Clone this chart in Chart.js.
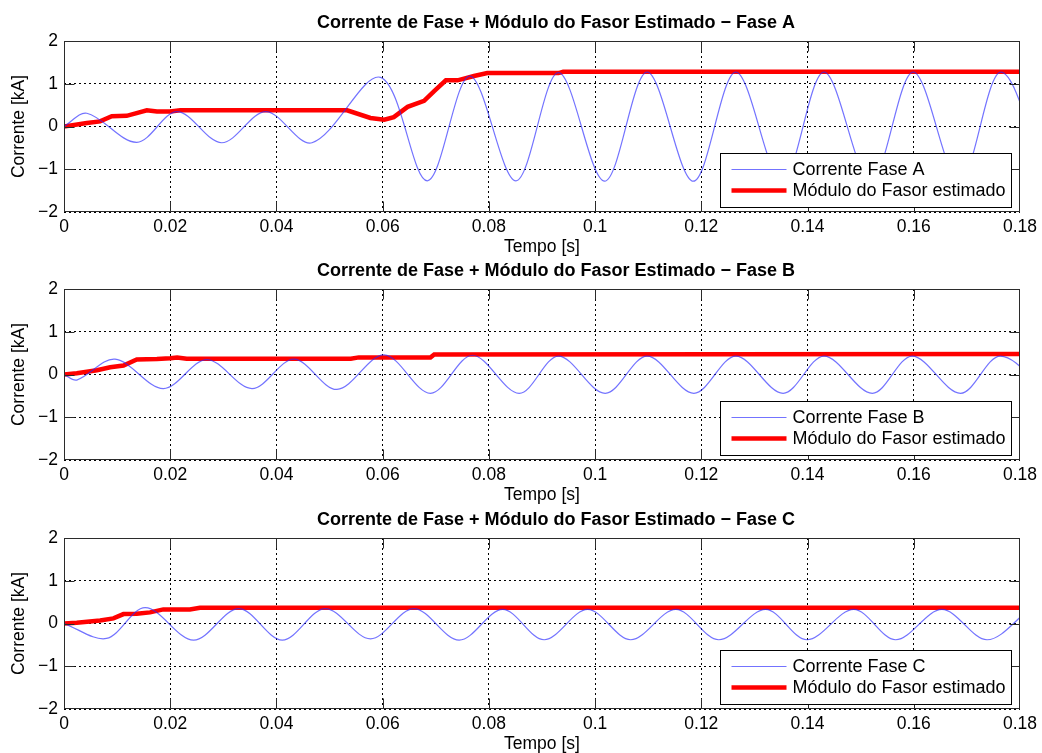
<!DOCTYPE html>
<html>
<head>
<meta charset="utf-8">
<script src="https://cdn.jsdelivr.net/npm/chart.js@4"></script>
<style>
  html, body { margin: 0; padding: 0; background: #fff; overflow: hidden; }
  canvas { position: absolute; left: 0; }
</style>
</head>
<body>
<canvas id="faseA" width="1042" height="262" style="top:0px"></canvas>
<canvas id="faseB" width="1042" height="262" style="top:248px"></canvas>
<canvas id="faseC" width="1042" height="262" style="top:497px"></canvas>
<script>
// eixos
const xTicks = [0, 0.02, 0.04, 0.06, 0.08, 0.1, 0.12, 0.14, 0.16, 0.18];
const xTickLabels = ['0', '0.02', '0.04', '0.06', '0.08', '0.1', '0.12', '0.14', '0.16', '0.18'];
const yTicks = [-2, -1, 0, 1, 2];
const yTickLabels = ['\u22122', '\u22121', '0', '1', '2'];

// Fase A - corrente (picos e vales)
const tempoA = [0, 0.0043, 0.0137, 0.0213, 0.0297, 0.038, 0.0467, 0.0596, 0.0684, 0.0764, 0.0851,
  0.0931, 0.1018, 0.1098, 0.1185, 0.1265, 0.1352, 0.1431, 0.1519, 0.1599, 0.1686, 0.1764, 0.1852];
const correnteA = [0, 0.31, -0.37, 0.35, -0.38, 0.35, -0.38, 1.15, -1.27, 1.18, -1.27,
  1.26, -1.28, 1.27, -1.28, 1.27, -1.28, 1.27, -1.28, 1.27, -1.28, 1.27, -1.28];
// Fase A - modulo estimado
const tempoModA = [0, 0.0043, 0.0068, 0.009, 0.0118, 0.0156, 0.0175, 0.02, 0.0219, 0.0533, 0.0577, 0.0603,
  0.0621, 0.0647, 0.0678, 0.0697, 0.0719, 0.0741, 0.0772, 0.0797, 0.0931, 0.094, 0.18];
const moduloA = [0, 0.08, 0.12, 0.24, 0.25, 0.38, 0.35, 0.35, 0.38, 0.38, 0.2, 0.16,
  0.22, 0.46, 0.6, 0.83, 1.08, 1.08, 1.18, 1.25, 1.25, 1.28, 1.28];

// Fase B
const tempoB = [0, 0.0024, 0.0096, 0.0187, 0.0269, 0.0354, 0.0433, 0.0514, 0.0603, 0.069, 0.0769,
  0.0857, 0.0931, 0.1019, 0.1098, 0.1186, 0.1265, 0.1354, 0.1431, 0.1522, 0.1597, 0.1688, 0.1763, 0.1853];
const correnteB = [0, -0.13, 0.36, -0.33, 0.35, -0.33, 0.36, -0.35, 0.46, -0.44, 0.45,
  -0.44, 0.43, -0.44, 0.43, -0.44, 0.43, -0.44, 0.43, -0.44, 0.43, -0.44, 0.43, -0.44];
const tempoModB = [0, 0.0024, 0.0062, 0.0087, 0.0112, 0.0137, 0.0175, 0.02, 0.0213, 0.0231, 0.054, 0.0555,
  0.069, 0.0697, 0.18];
const moduloB = [0, 0.03, 0.1, 0.17, 0.21, 0.35, 0.36, 0.38, 0.4, 0.37, 0.37, 0.4,
  0.4, 0.47, 0.48];

// Fase C
const tempoC = [0, 0.008, 0.0153, 0.0244, 0.0329, 0.0411, 0.0492, 0.0577, 0.0659, 0.0744, 0.0826,
  0.0904, 0.0986, 0.1067, 0.1152, 0.1233, 0.1321, 0.1399, 0.1487, 0.1566, 0.1653, 0.1738, 0.1818];
const correnteC = [0, -0.35, 0.37, -0.39, 0.35, -0.39, 0.35, -0.36, 0.35, -0.39, 0.33,
  -0.38, 0.33, -0.38, 0.33, -0.38, 0.33, -0.38, 0.33, -0.38, 0.33, -0.38, 0.33];
const tempoModC = [0, 0.0024, 0.0068, 0.0093, 0.0112, 0.0137, 0.0162, 0.0187, 0.0237, 0.0256, 0.18];
const moduloC = [0, 0.02, 0.07, 0.12, 0.22, 0.23, 0.26, 0.33, 0.33, 0.37, 0.37];

const FONT = 'Liberation Sans, Arial, Helvetica, sans-serif';
const TICK = 10;
const AZUL = 'rgba(40,40,255,0.65)';

function pontos(t, v) {
  return t.map((x, i) => ({ x: x, y: v[i] }));
}

// titulo um pouco deslocado para a direita, como no original
const titleShift = {
  id: 'titleShift',
  afterLayout(chart) {
    if (chart.titleBlock) chart.titleBlock.left += 28;
  }
};

// caixa dos eixos + marcas internas (estilo matlab)
const axesBox = {
  id: 'axesBox',
  afterDatasetsDraw(chart) {
    const { ctx, chartArea: a, scales: { x, y } } = chart;
    const l = Math.round(a.left) + 0.5, r = Math.round(a.right) - 0.5;
    const t = Math.round(a.top) + 0.5, b = Math.round(a.bottom) - 0.5;
    const lim = (v, lo, hi) => Math.min(Math.max(v, lo), hi);
    ctx.save();
    ctx.strokeStyle = '#2b2b2b';
    ctx.lineWidth = 1;
    ctx.beginPath();
    xTicks.forEach(v => {
      const px = lim(Math.round(x.getPixelForValue(v)) + 0.5, l, r);
      ctx.moveTo(px, b); ctx.lineTo(px, b - TICK);
      ctx.moveTo(px, t); ctx.lineTo(px, t + TICK);
    });
    yTicks.forEach(v => {
      const py = lim(Math.round(y.getPixelForValue(v)) + 0.5, t, b);
      ctx.moveTo(l, py); ctx.lineTo(l + TICK, py);
      ctx.moveTo(r, py); ctx.lineTo(r - TICK, py);
    });
    ctx.stroke();
    ctx.strokeRect(l, t, r - l, b - t);
    ctx.restore();
  }
};

// legenda com caixa no canto inferior direito
const boxLegend = {
  id: 'boxLegend',
  afterDraw(chart) {
    const { ctx, chartArea: a } = chart;
    const w = 291, h = 54;
    const bx = Math.round(a.right - 9 - w) + 0.5;
    const by = Math.round(a.bottom - 5 - h) + 0.5;
    ctx.save();
    ctx.fillStyle = '#fff';
    ctx.fillRect(bx, by, w, h);
    ctx.strokeStyle = '#000';
    ctx.lineWidth = 1;
    ctx.strokeRect(bx, by, w, h);
    ctx.font = '18px ' + FONT;
    ctx.textBaseline = 'middle';
    ctx.fillStyle = '#000';
    chart.data.datasets.forEach((ds, i) => {
      const yy = by + 16 + i * 21;
      ctx.strokeStyle = ds.borderColor;
      ctx.lineWidth = ds.borderWidth;
      ctx.beginPath();
      ctx.moveTo(bx + 11, yy);
      ctx.lineTo(bx + 66, yy);
      ctx.stroke();
      ctx.fillText(ds.label, bx + 72, yy + 1);
    });
    ctx.restore();
  }
};

function makeChart(id, fase, tempo, corrente, tempoMod, modulo) {
  return new Chart(document.getElementById(id), {
    type: 'line',
    data: {
      datasets: [
        {
          label: 'Corrente Fase ' + fase,
          data: pontos(tempo, corrente),
          borderColor: AZUL,
          borderWidth: 1.2,
          pointRadius: 0,
          tension: 0.333
        },
        {
          label: 'M\u00f3dulo do Fasor estimado',
          data: pontos(tempoMod, modulo),
          borderColor: '#ff0000',
          borderWidth: 4.5,
          pointRadius: 0,
          tension: 0
        }
      ]
    },
    options: {
      responsive: false,
      animation: false,
      devicePixelRatio: 1,
      elements: { line: { capBezierPoints: false } },
      layout: { padding: { left: 0, right: 20, top: 0, bottom: 0 } },
      plugins: {
        legend: { display: false },
        tooltip: { enabled: false },
        title: {
          display: true,
          fullSize: false,
          text: 'Corrente de Fase + M\u00f3dulo do Fasor Estimado \u2212 Fase ' + fase,
          color: '#000',
          font: { family: FONT, size: 18, weight: 'bold' },
          padding: { top: 12, bottom: 7.4 }
        }
      },
      scales: {
        x: {
          type: 'linear',
          min: 0,
          max: 0.18,
          afterBuildTicks: s => { s.ticks = xTicks.map(v => ({ value: v })); },
          afterFit: s => { s.height = 50; },
          grid: { color: '#000', lineWidth: 1, drawTicks: false },
          border: { display: false, dash: [2, 3] },
          ticks: {
            color: '#000', padding: 5, maxRotation: 0, autoSkip: false,
            font: { family: FONT, size: 17.5 },
            callback: (v, i) => xTickLabels[i]
          },
          title: {
            display: true, text: 'Tempo [s]', color: '#000',
            font: { family: FONT, size: 17.5 },
            padding: { top: 0, bottom: 4.5 }
          }
        },
        y: {
          min: -2,
          max: 2,
          afterBuildTicks: s => { s.ticks = yTicks.map(v => ({ value: v })); },
          afterFit: s => { s.width = 64; },
          grid: { color: '#000', lineWidth: 1, drawTicks: false },
          border: { display: false, dash: [2, 3] },
          ticks: {
            color: '#000', padding: 6,
            font: { family: FONT, size: 17.5 },
            callback: (v, i) => yTickLabels[i]
          },
          title: {
            display: true, text: 'Corrente [kA]', color: '#000',
            font: { family: FONT, size: 17.5 },
            padding: { top: 9, bottom: 0 }
          }
        }
      }
    },
    plugins: [titleShift, axesBox, boxLegend]
  });
}

makeChart('faseA', 'A', tempoA, correnteA, tempoModA, moduloA);
makeChart('faseB', 'B', tempoB, correnteB, tempoModB, moduloB);
makeChart('faseC', 'C', tempoC, correnteC, tempoModC, moduloC);
</script>
</body>
</html>
